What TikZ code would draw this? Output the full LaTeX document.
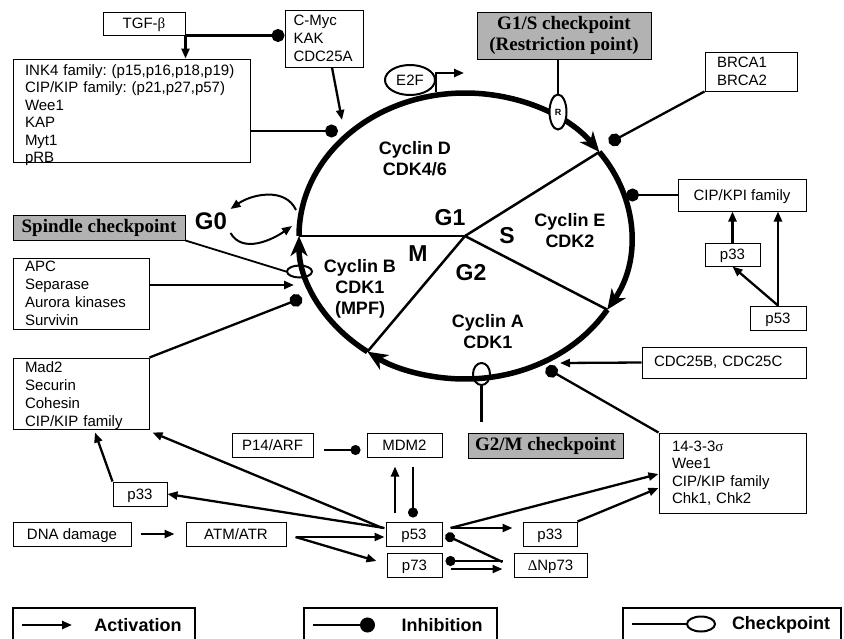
\documentclass[tikz,border=0pt]{standalone}
\usepackage{fontspec}
\setmainfont{Liberation Sans}
\newfontfamily\serfont{Liberation Serif}
\usetikzlibrary{shapes.geometric, positioning, arrows.meta, calc}
\frenchspacing

\begin{document}
\begin{tikzpicture}[
  x=1pt, y=-1pt,
  every node/.style={font=\fontsize{15}{18}\selectfont},
  line/.style={line width=2.3pt},
  act/.style={line, -{Triangle[length=10pt,width=8pt]}},
  inh/.style={line, -{Circle[length=13pt]}},
  box/.style={draw, line width=1pt, fill=white, inner sep=0pt},
  mbox/.style={box, align=left},
  sbox/.style={box, minimum height=24pt, text height=13pt, text depth=3pt},
  gbox/.style={draw, line width=1pt, fill=gray!60, inner sep=0pt, align=center,
    font=\fontsize{19}{21}\selectfont\serfont\bfseries},
  chk/.style={draw, ellipse, line width=2pt, inner sep=0pt},
  cyc/.style={line width=5.5pt, -{Stealth[length=20pt,width=17pt,inset=6pt]}},
  spoke/.style={line width=2.5pt},
  phase/.style={font=\fontsize{23}{26}\selectfont\bfseries},
  cyclin/.style={align=center, font=\fontsize{18}{21}\selectfont\bfseries},
  legbox/.style={draw, line width=1.2pt, minimum width=#1, minimum height=37pt},
  legtxt/.style={font=\fontsize{18}{21}\selectfont\bfseries},
]
\useasboundingbox (0,0) rectangle (844,638);

%% ---- Cell cycle ----
\coordinate (cc) at (465,236);
\coordinate (tG1S) at ($(cc)+(-36:166 and 143)$);
\coordinate (tSG2) at ($(cc)+(31:166 and 143)$);
\coordinate (tG2M) at ($(cc)+(126:166 and 143)$);
\coordinate (tMG1) at ($(cc)+(180:166 and 143)$);
\draw[cyc] (tMG1) arc[start angle=180, end angle=324, x radius=166, y radius=143];
\draw[cyc] (tG1S) arc[start angle=-36, end angle=31, x radius=166, y radius=143];
\draw[cyc] (tSG2) arc[start angle=31, end angle=126, x radius=166, y radius=143];
\draw[cyc] (tG2M) arc[start angle=126, end angle=180, x radius=166, y radius=143];
\draw[spoke] (cc) -- (tMG1);
\draw[spoke] (cc) -- (tG1S);
\draw[spoke] (cc) -- (tSG2);
\draw[spoke] (cc) -- (tG2M);

\node[cyclin] (cycD) at (415,159) {Cyclin D\\CDK4/6};
\node[cyclin] (cycE) at (570,231) {Cyclin E\\CDK2};
\node[cyclin] (cycB) at (360,289) {Cyclin B\\CDK1\\(MPF)};
\node[cyclin] (cycA) at (488,332) {Cyclin A\\CDK1};
\node[phase] (phG1) at (450,218) {G1};
\node[phase] (phS)  at (507,236) {S};
\node[phase] (phM)  at (418,254) {M};
\node[phase] (phG2) at (471,273) {G2};

%% ---- G0 ----
\node[phase, font=\fontsize{24}{26}\selectfont\bfseries] (g0) at (211,221) {G0};
\coordinate (g0a) at (296,210);
\coordinate (g0b) at (292,226);
\draw[act, line width=2pt] (g0a) to[out=115, in=35] (g0.north east);
\draw[act, line width=2pt] (g0.south east) to[out=-60, in=215] (g0b);

%% ---- Checkpoints on the cycle ----
\node[chk, fill=white, minimum width=17pt, minimum height=35pt,
  font=\fontsize{9}{10}\selectfont\bfseries] (rchk) at (558,112) {R};
\node[chk, minimum width=25pt, minimum height=12pt] (spchk) at (299.5,271.5) {};
\node[chk, minimum width=17pt, minimum height=22pt] (g2mchk) at (481.5,374) {};

\node[chk, fill=white, minimum width=50pt, minimum height=30pt] (e2f) at (410,80) {E2F};
\coordinate (e2fb) at ($(e2f.east)+(0,12)$);
\coordinate (e2fo) at (464,73);
\draw[act] (e2fb) |- (e2fo);

%% ---- Top left ----
\node[sbox, minimum width=82pt, minimum height=23pt] (tgf) at (144,23.5)
  {TGF-{\serfont β}};
\node[mbox, minimum width=78pt, minimum height=57pt, text width=61pt] (cmyc) at (324,38.5)
  {C-Myc\\KAK\\CDC25A};
\node[mbox, minimum width=237pt, minimum height=103pt, text width=213pt,
  text height=14pt, text depth=85pt,
  font=\fontsize{15}{17.5}\selectfont] (ink4) at (131.5,110.5)
  {INK4 family: (p15,p16,p18,p19)\\CIP/KIP family: (p21,p27,p57)\\Wee1\\KAP\\Myt1\\pRB};
\draw[inh] (tgf.south east) -- (tgf.south east -| cmyc.west);
\draw[act] (tgf.south east) -- (tgf.south east |- ink4.north);
\coordinate (dInk) at (338,131);
\draw[inh] (ink4.east |- dInk) -- (dInk);
\coordinate (aMyc) at (342,120);
\draw[act] ($(cmyc.south)+(8,0)$) -- (aMyc);

%% ---- Top right ----
\node[gbox, minimum width=174pt, minimum height=47pt] (g1s) at (564,35.5)
  {G1/S checkpoint\\(Restriction point)};
\draw[line] (g1s.south -| rchk) -- (rchk.north);
\node[mbox, minimum width=92pt, minimum height=39pt, text width=68pt] (brca) at (751,71.5)
  {BRCA1\\BRCA2};
\coordinate (dBrca) at (609,143);
\draw[inh] (brca.south west) -- (dBrca);
\node[sbox, minimum width=128pt, minimum height=32pt] (cipkpi) at (742,195) {CIP/KPI family};
\coordinate (dKpi) at (626,195);
\draw[inh] (cipkpi.west) -- (dKpi);
\node[sbox, minimum width=55pt, minimum height=23pt] (p33r) at (732.5,254.5) {p33};
\node[sbox, minimum width=56pt] (p53r) at (778,318) {p53};
\draw[act] (p33r.north) -- (p33r.north |- cipkpi.south);
\draw[act] (p53r.north) -- (p53r.north |- cipkpi.south);
\draw[act] (p53r.north) -- (p33r.south);

%% ---- Left ----
\node[gbox, minimum width=172pt, minimum height=25pt] (spindle) at (99,227.5)
  {Spindle checkpoint};
\draw[line, line width=1.8pt] (spindle.south east) -- (spchk.west);
\node[mbox, minimum width=136pt, minimum height=71pt, text width=112pt] (apc) at (81,293.5)
  {APC\\Separase\\Aurora kinases\\Survivin};
\coordinate (aApc) at (294,285);
\draw[act] (apc.east |- aApc) -- (aApc);
\node[mbox, minimum width=136pt, minimum height=71pt, text width=112pt,
  text height=12pt, text depth=54pt] (mad2) at (81,393.5)
  {Mad2\\Securin\\Cohesin\\CIP/KIP family};
\coordinate (dMad) at (302,298);
\draw[inh] (mad2.north east) -- (dMad);

%% ---- Right ----
\node[mbox, minimum width=164pt, minimum height=31pt, text width=140pt] (cdc25) at (724,362.5)
  {CDC25B, CDC25C};
\coordinate (aCdc) at (560,363);
\draw[act] (cdc25.west) -- (aCdc);
\node[mbox, minimum width=147pt, minimum height=80pt, text width=121pt,
  font=\fontsize{15}{17.5}\selectfont] (p1433) at (732.5,473)
  {14-3-3{\serfont σ}\\Wee1\\CIP/KIP family\\Chk1, Chk2};
\coordinate (dChk) at (546,368);
\draw[inh] (p1433.north west) -- (dChk);

%% ---- G2/M ----
\node[gbox, minimum width=155pt, minimum height=25pt] (g2m) at (545.5,445.5) {G2/M checkpoint};
\coordinate (g2mt) at (481.5,422);
\draw[line] (g2mchk.south) -- (g2mt);

%% ---- p53 network ----
\node[sbox, minimum width=81pt] (p14arf) at (272.5,445) {P14/ARF};
\node[sbox, minimum width=75pt] (mdm2) at (404.5,445) {MDM2};
\node[sbox, minimum width=54pt] (p33l) at (140,494) {p33};
\node[sbox, minimum width=118pt] (dna) at (72,534) {DNA damage};
\node[sbox, minimum width=100pt] (atm) at (236,534) {ATM/ATR};
\node[sbox, minimum width=56pt] (p53) at (414,534) {p53};
\node[sbox, minimum width=55pt] (p73) at (414.5,565) {p73};
\node[sbox, minimum width=54pt] (p33m) at (550,534) {p33};
\node[sbox, minimum width=73pt] (dnp73) at (550.5,565) {{\serfont Δ}Np73};

\draw[inh, -{Circle[length=10pt]}] ($(p14arf.east)+(10,5)$) -- ($(mdm2.west)+(-6,5)$);
\draw[act] ($(p53.north)+(-19,-9)$) -- ($(mdm2.south)+(-9.5,9)$);
\draw[inh, -{Circle[length=10pt]}] ($(mdm2.south)+(8.5,9)$) -- ($(p53.north)+(-1,-4)$);
\draw[act] ($(p53.west)+(-1,-6)$) -- (p33l.east);
\draw[act] ($(p53.west)+(-3,-6)$) -- ($(mad2.south east)+(3,3)$);
\draw[act] (p33l.north west) -- ($(mad2.south)+(14,3)$);
\draw[act, shorten <=9pt, shorten >=11pt] (dna.east) -- (atm.west);
\coordinate (atmo) at ($(atm.east)+(9,3)$);
\draw[act] (atmo) -- ($(p53.west)+(-1,3)$);
\draw[act] (atmo) -- ($(p73.west)+(-10,-4)$);
\coordinate (p53o) at ($(p53.east)+(8,-6)$);
\draw[act] (p53o) -- ($(p33m.west)+(-10,-6)$);
\draw[act] (p53o) -- ($(p1433.west)+(0,1)$);
\draw[act] (p33m.north east) -- ($(p1433.west)+(0,15)$);
\draw[inh, -{Circle[length=10pt]}] ($(dnp73.west)+(-11,-3)$) -- ($(p53.east)+(3,1)$);
\draw[inh, -{Circle[length=10pt]}] ($(dnp73.west)+(-11,-4)$) -- ($(p73.east)+(3,-4)$);
\draw[act] ($(p73.east)+(8,4)$) -- ($(dnp73.west)+(-11,4)$);

%% ---- Legend ----
\node[legbox=182pt] (lgA) at (104,626.5) {};
\coordinate (lgA1) at (22,625);
\coordinate (lgA2) at (72,625);
\draw[act] (lgA1) -- (lgA2);
\node[legtxt] (lgAt) at (138,625) {Activation};

\node[legbox=193pt] (lgI) at (400.5,626.5) {};
\coordinate (lgI1) at (313,625);
\coordinate (lgI2) at (375,625);
\draw[inh, -{Circle[length=15pt]}] (lgI1) -- (lgI2);
\node[legtxt] (lgIt) at (442,625) {Inhibition};

\node[legbox=218pt] (lgC) at (732,626.5) {};
\node[chk, minimum width=28pt, minimum height=15pt] (lgCe) at (701,624) {};
\coordinate (lgC1) at (632,624);
\draw[line] (lgC1) -- (lgCe.west);
\node[legtxt] (lgCt) at (781,625) {Checkpoint};

\end{tikzpicture}
\end{document}
